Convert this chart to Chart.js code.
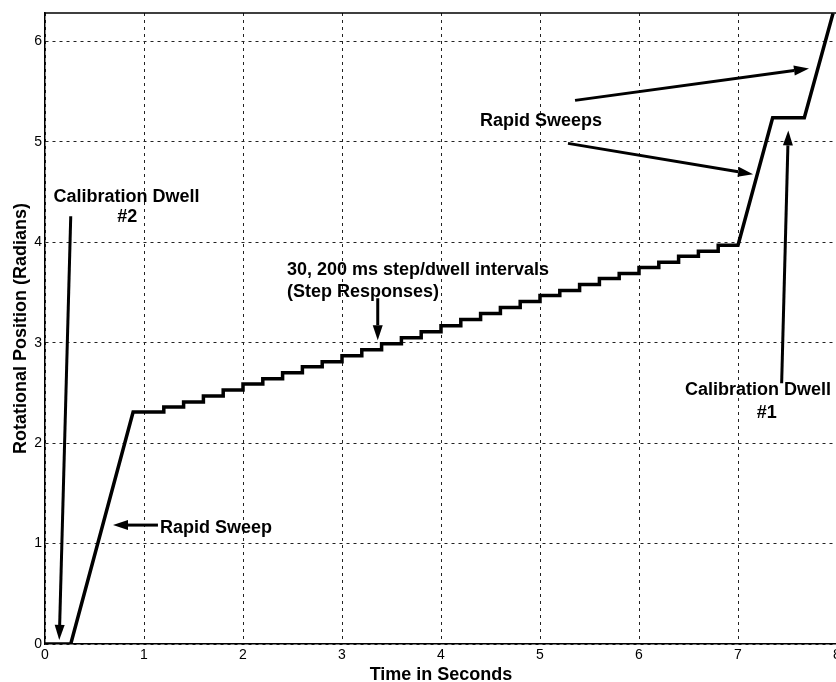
<!DOCTYPE html>
<html lang="en">
<head>
    <meta charset="UTF-8">
    <title>Rotational Position vs Time</title>
    <style>
    html, body {
        margin: 0;
        padding: 0;
        background: #fff;
        overflow: hidden;
    }
    #chart {
        display: block;
    }
    </style>
</head>
<body>

    <canvas id="chart" width="845" height="682"></canvas>

    <script src="https://cdn.jsdelivr.net/npm/chart.js"></script>
    <script>
// calibration dwell #2 at zero before the first sweep
const startTimes = [0, 0.26];
const startPos = [0, 0];

// 30 dwell levels of 200 ms (step responses)
const stepTimes = [0.89, 1.20, 1.40, 1.60, 1.80, 2.00, 2.20, 2.40, 2.60, 2.80,
                   3.00, 3.20, 3.40, 3.60, 3.80, 4.00, 4.20, 4.40, 4.60, 4.80,
                   5.00, 5.20, 5.40, 5.60, 5.80, 6.00, 6.20, 6.40, 6.60, 6.80];
const stepPos = [2.31, 2.36, 2.41, 2.47, 2.53, 2.59, 2.64, 2.70, 2.76, 2.81,
                 2.87, 2.93, 2.99, 3.05, 3.11, 3.17, 3.23, 3.29, 3.35, 3.41,
                 3.47, 3.52, 3.58, 3.64, 3.69, 3.75, 3.80, 3.86, 3.91, 3.97];

// rapid sweeps around calibration dwell #1
const sweepTimes = [7.00, 7.35, 7.67, 7.96];
const sweepPos = [3.97, 5.24, 5.24, 6.28];

const xTicks = [0, 1, 2, 3, 4, 5, 6, 7, 8];
const yTicks = [0, 1, 2, 3, 4, 5, 6];

// labels and arrows, placed in data units (seconds, radians)
const notes = [
    { text: 'Calibration Dwell', t: 0.823, v: 4.45, align: 'center' },
    { text: '#2', t: 0.83, v: 4.25, align: 'center' },
    { text: 'Rapid Sweep', t: 1.162, v: 1.154, align: 'left' },
    { text: '30, 200 ms step/dwell intervals', t: 2.444, v: 3.72, align: 'left' },
    { text: '(Step Responses)', t: 2.444, v: 3.50, align: 'left' },
    { text: 'Rapid Sweeps', t: 5.01, v: 5.21, align: 'center' },
    { text: 'Calibration Dwell', t: 6.465, v: 2.53, align: 'left' },
    { text: '#1', t: 7.29, v: 2.30, align: 'center' }
];
const arrows = [
    { from: [0.26, 4.26], to: [0.144, 0.04] },
    { from: [1.141, 1.184], to: [0.687, 1.184] },
    { from: [3.361, 3.443], to: [3.361, 3.025] },
    { from: [5.354, 5.413], to: [7.717, 5.731] },
    { from: [5.283, 4.985], to: [7.152, 4.677] },
    { from: [7.441, 2.597], to: [7.508, 5.114] }
];

const FONT = "'Liberation Sans', Arial, Helvetica, sans-serif";
Chart.defaults.font.family = FONT;
Chart.defaults.color = '#000';

// trace: ramps plus the stairs (vertical edge at every step time)
const points = [];
startTimes.forEach((t, i) => points.push({ x: t, y: startPos[i] }));
stepTimes.forEach((t, i) => {
    if (i > 0) points.push({ x: t, y: stepPos[i - 1] });
    points.push({ x: t, y: stepPos[i] });
});
sweepTimes.forEach((t, i) => points.push({ x: t, y: sweepPos[i] }));

function drawArrow(ctx, x1, y1, x2, y2) {
    const ang = Math.atan2(y2 - y1, x2 - x1);
    const len = 15, half = 5;
    const bx = x2 - len * Math.cos(ang);
    const by = y2 - len * Math.sin(ang);
    ctx.beginPath();
    ctx.moveTo(x1, y1);
    ctx.lineTo(bx, by);
    ctx.stroke();
    ctx.beginPath();
    ctx.moveTo(x2, y2);
    ctx.lineTo(bx + half * Math.sin(ang), by - half * Math.cos(ang));
    ctx.lineTo(bx - half * Math.sin(ang), by + half * Math.cos(ang));
    ctx.closePath();
    ctx.fill();
}

const notesPlugin = {
    id: 'notes',
    afterDatasetsDraw(chart) {
        const { ctx, chartArea, scales: { x, y } } = chart;
        ctx.save();
        ctx.fillStyle = '#000';
        ctx.strokeStyle = '#000';

        // frame: top and right sides
        ctx.lineWidth = 1.5;
        ctx.beginPath();
        ctx.moveTo(chartArea.left, chartArea.top);
        ctx.lineTo(chartArea.right, chartArea.top);
        ctx.lineTo(chartArea.right, chartArea.bottom);
        ctx.stroke();

        ctx.font = 'bold 18px ' + FONT;
        ctx.textBaseline = 'middle';
        notes.forEach(n => {
            ctx.textAlign = n.align;
            ctx.fillText(n.text, x.getPixelForValue(n.t), y.getPixelForValue(n.v));
        });

        ctx.lineWidth = 3;
        ctx.lineCap = 'butt';
        arrows.forEach(a => {
            drawArrow(ctx,
                x.getPixelForValue(a.from[0]), y.getPixelForValue(a.from[1]),
                x.getPixelForValue(a.to[0]), y.getPixelForValue(a.to[1]));
        });
        ctx.restore();
    }
};

const ctx = document.getElementById('chart').getContext('2d');
const chart = new Chart(ctx, {
    type: 'line',
    data: {
        datasets: [{
            label: 'Rotational Position',
            data: points,
            borderColor: '#000',
            borderWidth: 3.5,
            pointRadius: 0,
            tension: 0,
            fill: false
        }]
    },
    options: {
        responsive: false,
        animation: false,
        devicePixelRatio: 1,
        layout: {
            padding: { top: 13, right: 8, bottom: 0, left: 0 }
        },
        plugins: {
            legend: { display: false },
            tooltip: { enabled: false }
        },
        scales: {
            x: {
                type: 'linear',
                min: 0,
                max: 8,
                afterBuildTicks: s => { s.ticks = xTicks.map(v => ({ value: v })); },
                afterFit: s => { s.height = 38; },
                grid: { color: '#222', lineWidth: 1, drawTicks: false },
                border: { color: '#000', width: 1.5, dash: [3, 4] },
                ticks: { color: '#000', padding: 3, maxRotation: 0, font: { size: 14 } },
                title: {
                    display: true,
                    text: 'Time in Seconds',
                    color: '#000',
                    font: { size: 18, weight: 'bold', lineHeight: '14px' },
                    padding: { top: 0, bottom: 0 }
                }
            },
            y: {
                type: 'linear',
                min: 0,
                max: 6.283,
                afterBuildTicks: s => { s.ticks = yTicks.map(v => ({ value: v })); },
                afterFit: s => { s.width = 45; },
                grid: { color: '#222', lineWidth: 1, drawTicks: false },
                border: { color: '#000', width: 1.5, dash: [3, 4] },
                ticks: { color: '#000', padding: 3, font: { size: 14 } },
                title: {
                    display: true,
                    text: 'Rotational Position (Radians)',
                    color: '#000',
                    font: { size: 18, weight: 'bold', lineHeight: 1.2 },
                    padding: { top: 10, bottom: 0 }
                }
            }
        }
    },
    plugins: [notesPlugin]
});
    </script>
</body>
</html>
